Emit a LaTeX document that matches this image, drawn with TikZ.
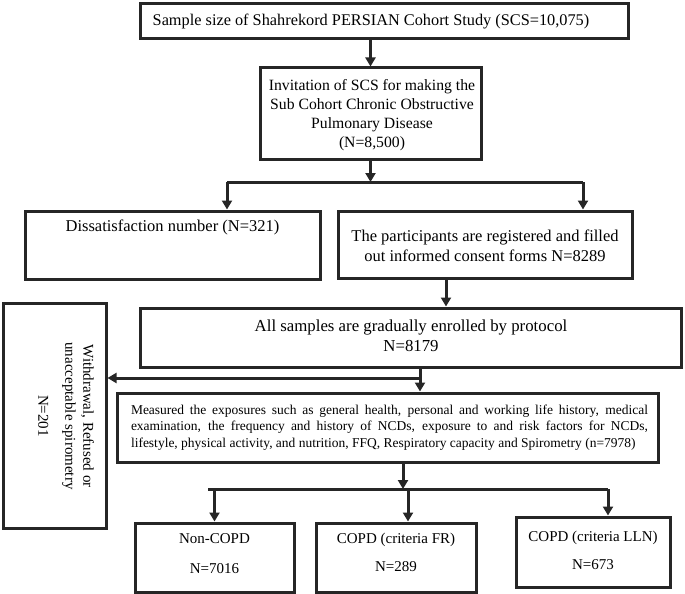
\documentclass[tikz,border=0pt]{standalone}
\usepackage{fontspec}
\setmainfont{Liberation Serif}
\usetikzlibrary{arrows.meta,calc}
\tikzset{
  box/.style={draw=black!85, line width=3pt, inner sep=0pt, anchor=center},
  txt/.style={inner sep=0pt, align=center, font=\fontsize{16.5}{19.5}\selectfont},
  arr/.style={draw=black!85, line width=3pt, -{Triangle[width=10pt,length=9pt]}},
  ln/.style={draw=black!85, line width=3pt},
}
\begin{document}
\begin{tikzpicture}[x=1pt,y=-1pt]
\useasboundingbox (0,0) rectangle (685,594);
% boxes
\node[box, minimum width=488, minimum height=35] (top) at (384,21.5) {};
\node[txt, font=\fontsize{16.3}{19}\selectfont] (toptxt) at (371,21.5) {Sample size of Shahrekord PERSIAN Cohort Study (SCS=10,075)};
\node[box, minimum width=221, minimum height=91] (inv) at (370.5,113.5) {};
\node[txt, font=\fontsize{15.7}{19.2}\selectfont] (invtxt) at (372,115) {Invitation of SCS for making the\\Sub Cohort Chronic Obstructive\\Pulmonary Disease\\(N=8,500)};
\node[box, minimum width=295, minimum height=68] (dis) at (172.5,245) {};
\node[txt] (distxt) at (172.5,227) {Dissatisfaction number (N=321)};
\node[box, minimum width=294, minimum height=67] (par) at (485,244.5) {};
\node[txt] (partxt) at (485,246) {The participants are registered and filled\\out informed consent forms N=8289};
\node[box, minimum width=541, minimum height=59] (all) at (410.5,337.5) {};
\node[txt, font=\fontsize{16.8}{20}\selectfont] (alltxt) at (411,335.5) {All samples are gradually enrolled by protocol\\N=8179};
\node[box, minimum width=103, minimum height=225] (wd) at (54.5,415.5) {};
\node[txt, rotate=-90, font=\fontsize{15}{18}\selectfont] (wdtxt) at (66,416) {Withdrawal, Refused or\\unacceptable spirometry\\[9pt]N=201};
\node[box, minimum width=541, minimum height=69] (meas) at (387.5,427.5) {};
\node[inner sep=0pt, align=left, font=\fontsize{13.5}{16.5}\selectfont] (meastxt) at (389.5,427.5) {%
\makebox[517pt][s]{Measured the exposures such as general health, personal and working life history, medical}\\
\makebox[517pt][s]{examination, the frequency and history of NCDs, exposure to and risk factors for NCDs,}\\
\makebox[517pt][l]{lifestyle, physical activity, and nutrition, FFQ, Respiratory capacity and Spirometry (n=7978)}};
\node[box, minimum width=159, minimum height=69] (non) at (214.5,557.5) {};
\node[txt, font=\fontsize{15}{18}\selectfont] (nontxt) at (214.5,539) {Non-COPD};
\node[txt, font=\fontsize{15}{18}\selectfont] (nonn) at (214.5,569) {N=7016};
\node[box, minimum width=160, minimum height=69] (fr) at (396,557.5) {};
\node[txt, font=\fontsize{15}{18}\selectfont] (frtxt) at (396,540) {COPD (criteria FR)};
\node[txt, font=\fontsize{15}{18}\selectfont] (frn) at (396,567) {N=289};
\node[box, minimum width=154, minimum height=70] (lln) at (593,552) {};
\node[txt, font=\fontsize{15}{18}\selectfont] (llntxt) at (593,538) {COPD (criteria LLN)};
\node[txt, font=\fontsize{15}{18}\selectfont] (llnn) at (593,565) {N=673};
% junction coordinates
\coordinate (jA) at (227,182);
\coordinate (jB) at (583,182);
\coordinate (jC) at (208,489);
\coordinate (jD) at (608,489);
\coordinate (jE) at (420,378);
% connectors
\draw[arr] (top.south -| inv.north) -- (inv.north);
\draw[ln] (jA) -- (jB);
\draw[arr] (inv.south) -- (inv.south |- jA);
\draw[arr] (jA) -- (jA |- dis.north);
\draw[arr] (jB) -- (jB |- par.north);
\draw[arr] ([xshift=-39pt]par.south) -- ([xshift=-39pt]par.south |- all.north);
\draw[ln] (jE |- all.south) -- (jE);
\draw[arr] (jE) -- (jE -| wd.east);
\draw[arr] (jE) -- (jE |- meas.north);
\draw[ln] (jC) -- (jD);
\draw[arr] ([xshift=15.5pt]meas.south) -- ([xshift=15.5pt]meas.south |- jC);
\draw[arr] (non.north |- jC) -- (non.north);
\draw[arr] ($(fr.north |- jC)+(12,0)$) -- ($(fr.north)+(12,0)$);
\draw[arr] (jD) -- (jD |- lln.north);
\end{tikzpicture}
\end{document}
